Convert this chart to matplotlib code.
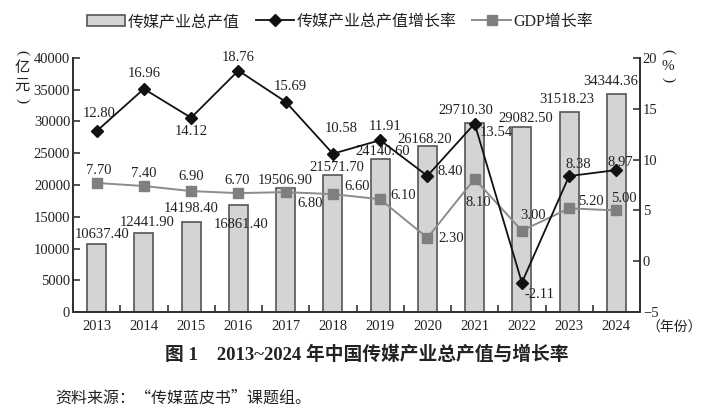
import matplotlib
matplotlib.use('Agg')
import matplotlib.pyplot as plt
from matplotlib.patches import Patch
from matplotlib.lines import Line2D
from matplotlib.ticker import FixedLocator

plt.rcParams['font.family'] = ['Liberation Serif', 'Noto Sans CJK SC']
plt.rcParams['axes.unicode_minus'] = True

years = ['2013', '2014', '2015', '2016', '2017', '2018',
         '2019', '2020', '2021', '2022', '2023', '2024']
output = [10637.40, 12441.90, 14198.40, 16861.40, 19506.90, 21571.70,
          24140.60, 26168.20, 29710.30, 29082.50, 31518.23, 34344.36]
media_growth = [12.80, 16.96, 14.12, 18.76, 15.69, 10.58,
                11.91, 8.40, 13.54, -2.11, 8.38, 8.97]
gdp_growth = [7.70, 7.40, 6.90, 6.70, 6.80, 6.60,
              6.10, 2.30, 8.10, 3.00, 5.20, 5.00]

# label offsets in pixels (dx, dy)
bar_off = [(5, 10), (3, 10), (0, 13), (3, -20), (0, 8), (4, 8),
           (3, 7), (-3, 6), (-9, 13), (4, 9), (-2, 12), (-6, 12)]
media_off = [(3, 18), (0, 15), (0, -14), (0, 13), (5, 15), (8, 25),
             (5, 14), (23, 4), (22, -9), (18, -12), (9, 12), (4, 8)]
gdp_off = [(2, 12), (0, 13), (0, 15), (-1, 13), (25, -11), (24, 8),
           (23, 4), (24, -1), (4, -24), (11, 15), (22, 7), (7, 12)]

fs = 10.5
txt = '#222222'
x = list(range(len(years)))

fig = plt.figure(figsize=(7.06, 4.13), dpi=100)
ax = fig.add_axes([73/706, 1-312/413, (640-73)/706, (312-58)/413])
ax2 = ax.twinx()

ax.bar(x, output, width=0.4, color='#d4d4d4', edgecolor='#555555', linewidth=1.2, zorder=2)
ax.set_xlim(-0.5, 11.5)
ax.set_ylim(0, 40000)
ax.set_yticks(range(0, 40001, 5000))
ax.set_xticks(x)
ax.set_xticklabels(years, fontsize=fs, color=txt)
ax.xaxis.set_minor_locator(FixedLocator([i + 0.5 for i in range(11)]))
ax.tick_params(axis='x', which='major', length=0, pad=6)
ax.tick_params(axis='x', which='minor', direction='in', length=5, width=1.2, color='#333333')
ax.tick_params(axis='y', direction='in', length=5, width=1.2, labelsize=fs, labelcolor=txt,
               color='#333333', pad=2)

for i in x:
    ax.annotate('%.2f' % output[i], (i, output[i]), xytext=bar_off[i],
                textcoords='offset pixels', ha='center', va='center',
                fontsize=fs, color=txt, zorder=3)

ax2.plot(x, gdp_growth, color='#8c8c8c', linewidth=1.4, marker='s', markersize=6.5,
         markerfacecolor='#7f7f7f', markeredgecolor='#7f7f7f', zorder=3)
ax2.plot(x, media_growth, color='#111111', linewidth=1.3, marker='D', markersize=6,
         markerfacecolor='#111111', zorder=4)
ax2.set_ylim(-5, 20)
ax2.set_yticks(range(-5, 21, 5))
ax2.tick_params(axis='y', direction='in', length=5, width=1.2, labelsize=fs, labelcolor=txt,
                color='#333333', pad=2)

for i in x:
    ax2.annotate('%.2f' % media_growth[i], (i, media_growth[i]), xytext=media_off[i],
                 textcoords='offset pixels', ha='center', va='center', fontsize=fs, color=txt)
    ax2.annotate('%.2f' % gdp_growth[i], (i, gdp_growth[i]), xytext=gdp_off[i],
                 textcoords='offset pixels', ha='center', va='center', fontsize=fs, color=txt)

for a in (ax, ax2):
    a.spines['top'].set_visible(False)
    for s in ('left', 'right', 'bottom'):
        a.spines[s].set_color('#333333')
        a.spines[s].set_linewidth(1.4)

# axis unit labels, stacked vertically like the original
def stacked(xp, items):
    for s, yp, rot in items:
        fig.text(xp/706, 1-yp/413, s, ha='center', va='center', fontsize=11,
                 color=txt, rotation=rot)

stacked(22, [('(', 53, -90), ('亿', 68, 0), ('元', 86, 0), (')', 101, -90)])
stacked(668, [('(', 52, -90), ('%', 66, 0), (')', 80, -90)])
fig.text(646/706, 1-328/413, '（年份）', ha='left', va='center', fontsize=10,
         color=txt, family=['Noto Sans CJK SC'])

handles = [
    Patch(facecolor='#d4d4d4', edgecolor='#555555', linewidth=1.2),
    Line2D([0], [0], color='#111111', linewidth=1.3, marker='D', markersize=6),
    Line2D([0], [0], color='#8c8c8c', linewidth=1.4, marker='s', markersize=6.5,
           markerfacecolor='#7f7f7f', markeredgecolor='#7f7f7f'),
]
labels = ['传媒产业总产值', '传媒产业总产值增长率', 'GDP增长率']
fig.legend(handles, labels, loc='center', bbox_to_anchor=(340/706, 1-22/413), ncol=3,
           frameon=False, fontsize=11.5, handlelength=2.4, handletextpad=0.15,
           columnspacing=1.0, labelcolor=txt)

fig.text(367/706, 1-355/413, '图 1    2013~2024 年中国传媒产业总产值与增长率',
         ha='center', va='center', fontsize=13.5, fontweight='bold', color=txt)
fig.text(55/706, 1-398/413, '资料来源：“传媒蓝皮书”课题组。', ha='left', va='center',
         fontsize=11.5, color=txt, family=['Noto Sans CJK SC'])

fig.savefig('out.png', dpi=100)
